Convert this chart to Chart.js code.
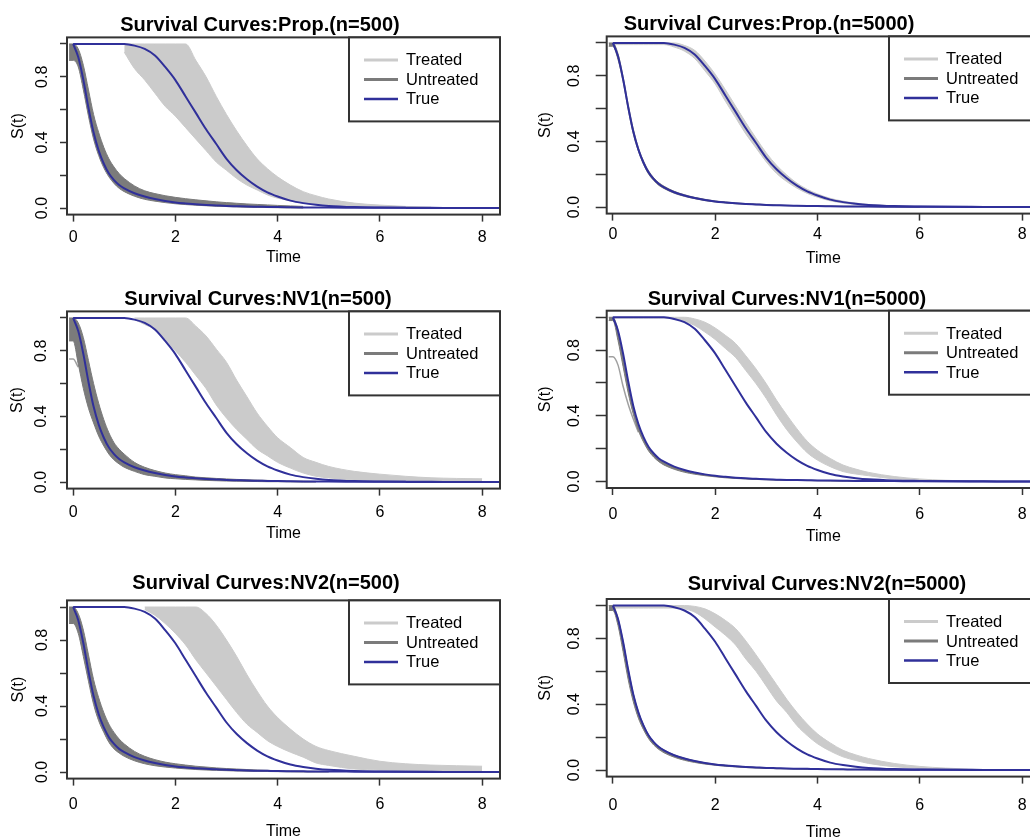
<!DOCTYPE html>
<html><head><meta charset="utf-8">
<script src="https://cdn.jsdelivr.net/npm/chart.js@4.4.0/dist/chart.umd.min.js"></script>
<style>
html,body{margin:0;padding:0;background:#fff;}
#wrap{position:relative;width:1030px;height:840px;overflow:hidden;background:#fff;}
canvas{position:absolute;}
</style></head>
<body><div id="wrap">
<canvas id="c1" width="515" height="280" style="left:0;top:0;width:515px;height:280px"></canvas>
<canvas id="c2" width="540" height="280" style="left:515px;top:0;width:540px;height:280px"></canvas>
<canvas id="c3" width="515" height="280" style="left:0;top:280px;width:515px;height:280px"></canvas>
<canvas id="c4" width="540" height="280" style="left:515px;top:280px;width:540px;height:280px"></canvas>
<canvas id="c5" width="515" height="290" style="left:0;top:560px;width:515px;height:290px"></canvas>
<canvas id="c6" width="540" height="290" style="left:515px;top:560px;width:540px;height:290px"></canvas>
</div>
<script>
// ---------------- data ----------------
const T = [-0.08, 0, 0.1, 0.2, 0.3, 0.4, 0.5, 0.6, 0.7, 0.8,
  0.9, 1.0, 1.2, 1.4, 1.6, 1.8, 2.0, 2.2, 2.4, 2.6,
  2.8, 3.0, 3.2, 3.4, 3.6, 3.8, 4.0, 4.25, 4.5, 4.75,
  5.0, 5.5, 6.0, 6.5, 7.0, 7.5, 8.0, 8.35];

const TRUE_UNTREATED = [null, 1.0, 0.92, 0.78, 0.61, 0.46, 0.35, 0.27, 0.21, 0.17,
  0.14, 0.12, 0.09, 0.07, 0.055, 0.043, 0.034, 0.028, 0.023, 0.019,
  0.016, 0.013, 0.011, 0.009, 0.008, 0.007, 0.006, 0.005, 0.004, 0.003,
  0.003, 0.002, 0.001, 0.001, 0.001, 0, 0, 0];
const TRUE_TREATED = [null, 1, 1, 1, 1, 1, 1, 1, 1, 1,
  1, 1, 0.99, 0.97, 0.93, 0.86, 0.78, 0.68, 0.58, 0.48,
  0.39, 0.30, 0.23, 0.175, 0.13, 0.095, 0.07, 0.045, 0.03, 0.02,
  0.013, 0.006, 0.003, 0.001, 0, 0, 0, 0];

// Prop. n=500
const PROP500_TR_UP = [null, null, null, null, null, null, null, null, null, null,
  null, 1.0, 1.0, 1.0, 1.0, 1.0, 1.0, 1.0, 0.90, 0.80,
  0.68, 0.57, 0.47, 0.38, 0.30, 0.24, 0.19, 0.14, 0.10, 0.075,
  0.055, 0.03, 0.018, 0.01, 0.005, null, null, null];
const PROP500_TR_LO = [null, null, null, null, null, null, null, null, null, null,
  null, 0.95, 0.85, 0.78, 0.70, 0.62, 0.56, 0.49, 0.42, 0.35,
  0.28, 0.23, 0.18, 0.14, 0.11, 0.08, 0.06, 0.045, 0.03, 0.02,
  0.015, 0.008, 0.004, 0.002, 0.0, null, null, null];
const PROP500_UN_UP = [1.0, 1.0, 0.97, 0.87, 0.72, 0.57, 0.46, 0.37, 0.30, 0.25,
  0.21, 0.18, 0.135, 0.105, 0.088, 0.075, 0.065, 0.057, 0.05, 0.044,
  0.038, 0.033, 0.029, 0.025, 0.022, 0.019, 0.016, 0.013, 0.01, null,
  null, null, null, null, null, null, null, null];
const PROP500_UN_LO = [0.9, 0.9, 0.86, 0.72, 0.56, 0.42, 0.32, 0.245, 0.19, 0.15,
  0.12, 0.10, 0.072, 0.053, 0.042, 0.033, 0.026, 0.021, 0.017, 0.014,
  0.011, 0.009, 0.007, 0.005, 0.004, 0.003, 0.002, 0.001, 0.0, null,
  null, null, null, null, null, null, null, null];

// Prop. n=5000
const PROP5000_TR_UP = [null, 1, 1, 1, 1, 1, 1, 1, 1, 1,
  1, 1, 1, 0.985, 0.955, 0.89, 0.81, 0.715, 0.615, 0.515,
  0.42, 0.33, 0.255, 0.195, 0.145, 0.108, 0.08, 0.053, 0.036, 0.024,
  0.016, 0.008, 0.004, 0.002, 0.001, 0, null, null];
const PROP5000_TR_LO = [null, 0.99, 0.99, 0.99, 0.99, 0.99, 0.99, 0.99, 0.99, 0.99,
  0.99, 0.99, 0.975, 0.95, 0.905, 0.83, 0.75, 0.645, 0.545, 0.445,
  0.36, 0.275, 0.205, 0.155, 0.115, 0.083, 0.06, 0.038, 0.024, 0.015,
  0.01, 0.004, 0.002, 0, 0, 0, null, null];
const PROP5000_UN_UP = [1.0, 1.0, 0.935, 0.795, 0.625, 0.475, 0.36, 0.28, 0.22, 0.178,
  0.148, 0.127, 0.096, 0.075, 0.059, 0.047, 0.037, 0.031, 0.025, 0.021,
  0.018, 0.015, 0.012, 0.01, 0.009, 0.008, 0.007, 0.006, 0.005, 0.004,
  0.003, 0.002, 0.001, null, null, null, null, null];
const PROP5000_UN_LO = [0.98, 0.98, 0.90, 0.765, 0.595, 0.445, 0.34, 0.26, 0.20, 0.162,
  0.132, 0.113, 0.084, 0.065, 0.051, 0.039, 0.031, 0.025, 0.02, 0.017,
  0.014, 0.011, 0.009, 0.008, 0.007, 0.006, 0.005, 0.004, 0.003, 0.002,
  0.002, 0.001, 0, null, null, null, null, null];

// NV1 n=500
const NV1_500_TR_UP = [null, null, null, null, null, null, null, null, null, null,
  null, null, 1.0, 1.0, 1.0, 1.0, 1.0, 1.0, 0.95, 0.89,
  0.81, 0.73, 0.62, 0.52, 0.42, 0.34, 0.27, 0.21, 0.15, 0.12,
  0.095, 0.065, 0.048, 0.035, 0.026, 0.022, 0.02, null];
const NV1_500_TR_LO = [null, null, null, null, null, null, null, null, null, null,
  null, null, 0.99, 0.96, 0.93, 0.87, 0.80, 0.73, 0.65, 0.57,
  0.47, 0.39, 0.32, 0.26, 0.20, 0.16, 0.12, 0.085, 0.055, 0.035,
  0.025, 0.012, 0.008, 0.005, 0.003, 0.002, 0.001, null];
const NV1_500_UN_UP = [1.0, 1.0, 0.97, 0.88, 0.74, 0.60, 0.48, 0.38, 0.30, 0.24,
  0.20, 0.17, 0.12, 0.09, 0.07, 0.055, 0.045, 0.038, 0.03, 0.026,
  0.022, 0.019, 0.016, 0.014, 0.012, 0.01, 0.008, 0.006, 0.005, 0.004,
  null, null, null, null, null, null, null, null];
const NV1_500_UN_LO = [0.86, 0.86, 0.72, 0.57, 0.45, 0.36, 0.28, 0.22, 0.17, 0.135,
  0.11, 0.09, 0.065, 0.045, 0.035, 0.025, 0.02, 0.016, 0.013, 0.01,
  0.008, 0.006, 0.005, 0.004, 0.003, 0.002, 0.002, 0.001, 0, 0,
  null, null, null, null, null, null, null, null];
const NV1_500_UN_ALT = [0.75, 0.75, 0.70, null, null, null, null, null, null, null,
  null, null, null, null, null, null, null, null, null, null,
  null, null, null, null, null, null, null, null, null, null,
  null, null, null, null, null, null, null, null];

// NV1 n=5000
const NV1_5000_TR_UP = [null, 1, 1, 1, 1, 1, 1, 1, 1, 1,
  1, 1, 1, 1, 0.99, 0.97, 0.935, 0.89, 0.84, 0.765,
  0.685, 0.595, 0.495, 0.405, 0.32, 0.245, 0.19, 0.14, 0.10, 0.075,
  0.055, 0.03, 0.015, 0.007, 0.002, 0, null, null];
const NV1_5000_TR_LO = [null, 0.995, 0.995, 0.995, 0.995, 0.995, 0.995, 0.995, 0.995, 0.995,
  0.995, 0.995, 0.99, 0.975, 0.95, 0.91, 0.865, 0.81, 0.755, 0.675,
  0.595, 0.505, 0.405, 0.315, 0.24, 0.175, 0.13, 0.09, 0.06, 0.045,
  0.035, 0.015, 0.006, 0.002, 0, 0, null, null];
const NV1_5000_UN_UP = [1.0, 1.0, 0.92, 0.77, 0.60, 0.45, 0.345, 0.265, 0.205, 0.165,
  0.137, 0.117, 0.088, 0.068, 0.053, 0.042, 0.033, 0.027, 0.022, 0.018,
  0.015, 0.012, 0.01, 0.009, 0.008, 0.007, 0.006, 0.005, 0.004, 0.003,
  0.003, 0.002, 0.001, null, null, null, null, null];
const NV1_5000_UN_LO = [0.98, 0.98, 0.86, 0.70, 0.54, 0.41, 0.31, 0.24, 0.185, 0.148,
  0.12, 0.10, 0.074, 0.056, 0.044, 0.035, 0.028, 0.022, 0.018, 0.015,
  0.012, 0.01, 0.008, 0.007, 0.006, 0.005, 0.004, 0.003, 0.002, 0.002,
  0.001, 0.001, 0, null, null, null, null, null];
const NV1_5000_UN_ALT = [0.76, 0.76, 0.71, 0.58, 0.47, 0.38, 0.30, null, null, null,
  null, null, null, null, null, null, null, null, null, null,
  null, null, null, null, null, null, null, null, null, null,
  null, null, null, null, null, null, null, null];

// NV2 n=500
const NV2_500_TR_UP = [null, null, null, null, null, null, null, null, null, null,
  null, null, null, 1.0, 1.0, 1.0, 1.0, 1.0, 1.0, 0.96,
  0.89, 0.80, 0.70, 0.59, 0.49, 0.40, 0.33, 0.26, 0.20, 0.155,
  0.13, 0.095, 0.065, 0.05, 0.042, 0.038, 0.035, null];
const NV2_500_TR_LO = [null, null, null, null, null, null, null, null, null, null,
  null, null, null, 0.985, 0.95, 0.90, 0.84, 0.77, 0.68, 0.60,
  0.52, 0.44, 0.36, 0.29, 0.24, 0.19, 0.155, 0.12, 0.09, 0.055,
  0.04, 0.018, 0.012, 0.008, 0.005, 0.003, 0.002, null];
const NV2_500_UN_UP = [1.0, 1.0, 0.96, 0.86, 0.71, 0.56, 0.45, 0.36, 0.29, 0.24,
  0.20, 0.17, 0.125, 0.095, 0.075, 0.06, 0.05, 0.042, 0.035, 0.03,
  0.025, 0.021, 0.018, 0.015, 0.012, 0.01, 0.008, 0.006, 0.005, 0.004,
  0.003, null, null, null, null, null, null, null];
const NV2_500_UN_LO = [0.9, 0.9, 0.84, 0.70, 0.55, 0.41, 0.31, 0.24, 0.18, 0.14,
  0.115, 0.095, 0.068, 0.05, 0.038, 0.03, 0.024, 0.019, 0.015, 0.012,
  0.01, 0.008, 0.006, 0.005, 0.004, 0.003, 0.002, 0.001, 0, 0,
  0, null, null, null, null, null, null, null];

// NV2 n=5000
const NV2_5000_TR_UP = [null, 1, 1, 1, 1, 1, 1, 1, 1, 1,
  1, 1, 1, 1, 0.995, 0.98, 0.95, 0.91, 0.86, 0.785,
  0.70, 0.61, 0.52, 0.43, 0.35, 0.28, 0.22, 0.165, 0.12, 0.092,
  0.07, 0.04, 0.022, 0.012, 0.005, 0.001, null, null];
const NV2_5000_TR_LO = [null, 0.985, 0.985, 0.985, 0.985, 0.985, 0.985, 0.985, 0.985, 0.985,
  0.985, 0.985, 0.985, 0.98, 0.96, 0.92, 0.87, 0.82, 0.76, 0.675,
  0.60, 0.51, 0.42, 0.35, 0.27, 0.21, 0.16, 0.115, 0.08, 0.058,
  0.04, 0.02, 0.01, 0.004, 0.001, 0, null, null];
const NV2_5000_UN_UP = [1.0, 1.0, 0.925, 0.785, 0.615, 0.465, 0.355, 0.275, 0.213, 0.172,
  0.142, 0.122, 0.092, 0.072, 0.056, 0.044, 0.035, 0.029, 0.024, 0.02,
  0.016, 0.013, 0.011, 0.009, 0.008, 0.007, 0.006, 0.005, 0.004, 0.003,
  0.003, 0.002, 0.001, null, null, null, null, null];
const NV2_5000_UN_LO = [0.97, 0.97, 0.88, 0.72, 0.55, 0.415, 0.315, 0.245, 0.19, 0.152,
  0.125, 0.105, 0.078, 0.059, 0.046, 0.036, 0.029, 0.023, 0.019, 0.015,
  0.012, 0.01, 0.008, 0.007, 0.006, 0.005, 0.004, 0.003, 0.002, 0.002,
  0.001, 0.001, 0, null, null, null, null, null];

const X_TICKS = [0, 2, 4, 6, 8];
const Y_TICKS = [0, 0.2, 0.4, 0.6, 0.8, 1.0];
const Y_LABELED = [0, 0.4, 0.8];
const LEGEND_LABELS = ['Treated', 'Untreated', 'True'];
const X_TITLE = 'Time';
const Y_TITLE = 'S(t)';

// ---------------- styling ----------------
const COL_TR = '#cbcbcb', COL_UN = '#7b7b7b', COL_ALT = '#a0a0a0', COL_TRUE = '#30309a', COL_AXIS = '#333333';
const FONT = "'Liberation Sans', Arial, Helvetica, sans-serif";
Chart.defaults.font.family = FONT;
Chart.defaults.font.size = 16;
Chart.defaults.color = '#000';

const PANELS = [
  {id:'c1', title:'Survival Curves:Prop.(n=500)', titleX:260, titleY:31, areaTop:37.4, axisW:67, axisH:65.4, padR:15,
   yTick:7, yLabPad:6, yTitlePad:9, xLabPad:6.6, xTitlePad:12.4,
   trUp:PROP500_TR_UP, trLo:PROP500_TR_LO, unUp:PROP500_UN_UP, unLo:PROP500_UN_LO},
  {id:'c2', title:'Survival Curves:Prop.(n=5000)', titleX:254, titleY:30, areaTop:36.4, axisW:91.7, axisH:66.4, padR:15,
   yTick:11, yLabPad:9.6, yTitlePad:21.4, xLabPad:4.6, xTitlePad:12.1,
   trUp:PROP5000_TR_UP, trLo:PROP5000_TR_LO, unUp:PROP5000_UN_UP, unLo:PROP5000_UN_LO},
  {id:'c3', title:'Survival Curves:NV1(n=500)', titleX:258, titleY:25, areaTop:31.4, axisW:67, axisH:71.4, padR:15,
   yTick:7, yLabPad:7, yTitlePad:7.5, xLabPad:7.6, xTitlePad:17.1,
   trUp:NV1_500_TR_UP, trLo:NV1_500_TR_LO, unUp:NV1_500_UN_UP, unLo:NV1_500_UN_LO, unAlt:NV1_500_UN_ALT},
  {id:'c4', title:'Survival Curves:NV1(n=5000)', titleX:272, titleY:25, areaTop:30.7, axisW:91.7, axisH:72, padR:15,
   yTick:11, yLabPad:9.6, yTitlePad:21.4, xLabPad:9.5, xTitlePad:13.7,
   trUp:NV1_5000_TR_UP, trLo:NV1_5000_TR_LO, unUp:NV1_5000_UN_UP, unLo:NV1_5000_UN_LO, unAlt:NV1_5000_UN_ALT},
  {id:'c5', title:'Survival Curves:NV2(n=500)', titleX:266, titleY:29, areaTop:40.4, axisW:67, axisH:71.4, padR:15,
   yTick:7, yLabPad:6, yTitlePad:8.5, xLabPad:9.2, xTitlePad:8.4,
   trUp:NV2_500_TR_UP, trLo:NV2_500_TR_LO, unUp:NV2_500_UN_UP, unLo:NV2_500_UN_LO},
  {id:'c6', title:'Survival Curves:NV2(n=5000)', titleX:312, titleY:30, areaTop:39, axisW:91.7, axisH:73.4, padR:15,
   yTick:11, yLabPad:9.6, yTitlePad:21.4, xLabPad:12.6, xTitlePad:7.9,
   trUp:NV2_5000_TR_UP, trLo:NV2_5000_TR_LO, unUp:NV2_5000_UN_UP, unLo:NV2_5000_UN_LO}
];

function pts(vals) {
  if (vals.length !== T.length) console.error('length mismatch', vals.length);
  const out = [];
  vals.forEach((v, i) => { if (v !== null) out.push({x: T[i], y: v}); });
  return out;
}

const decor = {
  id: 'decor',
  afterDatasetsDraw(chart) {
    const a = chart.chartArea, ctx = chart.ctx;
    ctx.save();
    ctx.strokeStyle = COL_AXIS; ctx.lineWidth = 2;
    ctx.strokeRect(a.left, a.top, a.right - a.left, a.bottom - a.top);
    ctx.restore();
  },
  afterDraw(chart, args, opts) {
    const a = chart.chartArea, ctx = chart.ctx;
    ctx.save();
    ctx.fillStyle = '#000';
    ctx.font = 'bold 20px ' + FONT;
    ctx.textAlign = 'center';
    ctx.textBaseline = 'alphabetic';
    ctx.fillText(opts.title, opts.titleX, opts.titleY);
    const lw = 151, lh = 84, lx = a.right - lw, ly = a.top;
    ctx.fillStyle = '#fff';
    ctx.fillRect(lx, ly, lw, lh);
    ctx.strokeStyle = COL_AXIS; ctx.lineWidth = 2;
    ctx.strokeRect(lx, ly, lw, lh);
    const styles = [{c: COL_TR, w: 3}, {c: COL_UN, w: 3}, {c: COL_TRUE, w: 2.5}];
    const offs = [22.5, 42, 61.5];
    ctx.font = '16.5px ' + FONT;
    ctx.textAlign = 'left';
    ctx.textBaseline = 'middle';
    LEGEND_LABELS.forEach((lab, i) => {
      const y = ly + offs[i];
      ctx.strokeStyle = styles[i].c; ctx.lineWidth = styles[i].w;
      ctx.beginPath(); ctx.moveTo(lx + 15, y); ctx.lineTo(lx + 49, y); ctx.stroke();
      ctx.fillStyle = '#000';
      ctx.fillText(lab, lx + 57, y + 1);
    });
    ctx.restore();
  }
};

function makeDatasets(p) {
  const base = {pointRadius: 0, pointHoverRadius: 0, cubicInterpolationMode: 'monotone'};
  const ds = [
    Object.assign({label: 'Treated', data: pts(p.trUp), borderColor: COL_TR, backgroundColor: COL_TR, borderWidth: 1, fill: '+1', order: 3}, base),
    Object.assign({label: 'Treated-lo', data: pts(p.trLo), borderColor: COL_TR, borderWidth: 1, fill: false, order: 3}, base),
    Object.assign({label: 'Untreated', data: pts(p.unUp), borderColor: COL_UN, backgroundColor: COL_UN, borderWidth: 1, fill: '+1', order: 2}, base),
    Object.assign({label: 'Untreated-lo', data: pts(p.unLo), borderColor: COL_UN, borderWidth: 1, fill: false, order: 2}, base)
  ];
  if (p.unAlt) ds.push(Object.assign({label: 'Untreated-alt', data: pts(p.unAlt), borderColor: COL_ALT, borderWidth: 1.5, fill: false, order: 2}, base));
  ds.push(Object.assign({label: 'True untreated', data: pts(TRUE_UNTREATED), borderColor: COL_TRUE, borderWidth: 2, fill: false, order: 1}, base));
  ds.push(Object.assign({label: 'True treated', data: pts(TRUE_TREATED), borderColor: COL_TRUE, borderWidth: 2, fill: false, order: 1}, base));
  return ds;
}

PANELS.forEach(p => {
  new Chart(document.getElementById(p.id), {
    type: 'line',
    data: {datasets: makeDatasets(p)},
    plugins: [decor],
    options: {
      responsive: false, animation: false, devicePixelRatio: 1,
      layout: {padding: {left: 0, right: p.padR, top: p.areaTop, bottom: 0}},
      plugins: {
        legend: {display: false}, tooltip: {enabled: false},
        decor: {title: p.title, titleX: p.titleX, titleY: p.titleY}
      },
      scales: {
        x: {
          type: 'linear', min: -0.12, max: 8.35,
          afterBuildTicks: s => { s.ticks = X_TICKS.map(v => ({value: v})); },
          afterFit: s => { s.height = p.axisH; },
          ticks: {autoSkip: false, maxRotation: 0, minRotation: 0, padding: p.xLabPad, font: {size: 16}, color: '#000',
                  callback: v => String(v)},
          grid: {display: true, drawOnChartArea: false, drawTicks: true, tickLength: 7, tickColor: COL_AXIS, tickWidth: 1.5},
          border: {display: false},
          title: {display: true, text: X_TITLE, font: {size: 16}, color: '#000', padding: {top: 0, bottom: p.xTitlePad}}
        },
        y: {
          type: 'linear', min: -0.04, max: 1.04,
          afterBuildTicks: s => { s.ticks = Y_TICKS.map(v => ({value: v})); },
          afterFit: s => { s.width = p.axisW; },
          ticks: {autoSkip: false, minRotation: 90, maxRotation: 90, crossAlign: 'center', padding: p.yLabPad,
                  font: {size: 16}, color: '#000',
                  callback: v => Y_LABELED.some(l => Math.abs(l - v) < 1e-9) ? v.toFixed(1) : ''},
          grid: {display: true, drawOnChartArea: false, drawTicks: true, tickLength: p.yTick, tickColor: COL_AXIS, tickWidth: 1.5},
          border: {display: false},
          title: {display: true, text: Y_TITLE, font: {size: 16}, color: '#000', padding: {top: p.yTitlePad, bottom: 0}}
        }
      }
    }
  });
});
</script>
</body></html>
